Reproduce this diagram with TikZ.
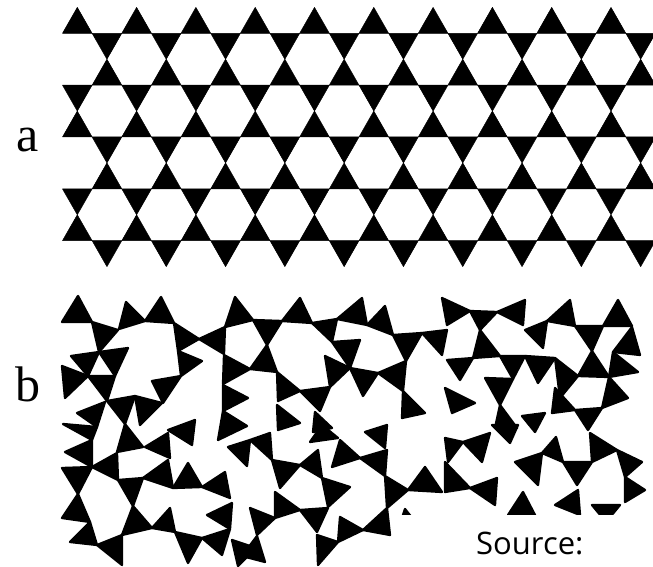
\documentclass[tikz,border=0pt]{standalone}
\usepackage{fontspec}
\setmainfont{Liberation Serif}
\newfontfamily\srcfont{Open Sans}
\begin{document}
\begin{tikzpicture}[x=1pt,y=-1pt,
  tri/.style={fill=black,draw=black,line width=0.5pt,line join=round},
  trib/.style={fill=black,draw=black,line width=2.3pt,line join=round},
  lbl/.style={font=\fontsize{50}{50}\selectfont,inner sep=0pt}]
\useasboundingbox (0,0) rectangle (653,567);
% ---- panel a: kagome lattice
\begin{scope}
\clip (0,0) rectangle (653,280);
\foreach \k in {0,...,4}{
  \foreach \j in {0,...,10}{
    \pgfmathsetmacro\yl{33.3+51.85*\k}
    \pgfmathsetmacro\xu{77.3+29.65*(2*\j+mod(\k,2))}
    \pgfmathsetmacro\xd{77.3+29.65*(2*\j+1-mod(\k,2))}
    \fill[tri] (\xu-14.82,\yl) -- (\xu,\yl-25.9) -- (\xu+14.82,\yl) -- cycle;
    \fill[tri] (\xd-14.82,\yl) -- (\xd,\yl+25.9) -- (\xd+14.82,\yl) -- cycle;
  }
}
\end{scope}
% ---- panel b: disordered network
\foreach \a/\b/\c/\d/\e/\f in {
62/322/78/296/92/322, 92/322/118/330/99/352, 119/329/126/302/145/321,
145/321/161/297/174/323, 174/323/199/339/178/351, 199/339/225/327/224/354,
225/327/235/297/253/320, 224/355/250/369/223/384, 223/385/248/398/223/411,
178/351/202/361/181/376, 152/381/181/376/163/403, 71/356/99/352/88/376,
99/352/128/348/115/376, 62/366/88/376/65/398, 88/376/115/376/107/401,
107/401/135/396/125/424, 135/396/162/403/140/425, 77/413/105/402/97/427,
63/424/97/427/92/440,
253/320/282/321/267/345, 282/321/300/298/312/323, 312/323/337/319/332/342,
337/319/362/298/367/325, 332/342/360/340/350/368, 367/325/385/306/393/335,
393/335/422/333/406/361, 422/333/447/330/442/355, 267/345/277/372/250/369,
277/372/300/391/278/401, 300/391/330/387/320/411, 325/356/350/368/330/387,
350/368/378/373/363/396, 378/373/406/361/403/391, 403/391/425/413/402/418,
277/405/300/423/278/430, 315/412/332/428/313/432,
442/298/470/311/447/325, 470/311/497/312/480/330, 497/312/525/300/523/325,
525/330/547/321/543/348, 547/321/570/300/575/326, 575/326/603/326/592/351,
603/326/618/300/632/326, 632/327/613/352/640/355, 592/351/578/376/609/377,
613/352/638/372/609/377, 609/377/628/398/602/408, 555/358/578/376/560/398,
480/330/500/356/473/358, 447/360/473/358/460/380, 500/356/525/356/513/379,
525/356/555/358/538/383, 485/378/513/379/500/405, 445/388/475/403/452/413,
500/405/517/428/495/428, 555/388/575/410/552/413, 575/410/602/408/588/430,
522/416/545/413/535/432,
65/452/92/440/92/467, 92/467/117/453/118/480, 117/452/125/424/143/447,
145/447/168/433/170/458, 118/480/143/478/133/506, 143/478/168/460/173/488,
173/488/188/463/202/487, 202/487/225/472/230/498, 168/430/195/420/192/445,
62/468/92/467/78/494, 78/494/62/518/90/522, 90/522/70/542/97/545,
97/545/122/535/122/565, 133/506/122/535/152/528, 152/528/170/508/175/532,
175/532/202/538/188/563, 202/538/230/529/222/555, 207/515/232/503/230/529,
250/440/270/433/272/460, 310/442/322/425/338/438, 332/467/340/440/360/458,
360/458/387/450/385/476, 365/432/387/425/385/448, 272/460/300/465/280/488,
300/465/318/450/322/478, 322/478/350/487/328/507, 275/492/300/510/275/518,
300/510/328/508/317/532, 250/508/275/518/257/535, 317/535/338/542/318/565,
338/542/340/517/363/530, 363/530/390/535/387/508, 387/508/408/490/385/476,
408/490/425/467/442/492,
445/438/463/442/448/462, 463/442/490/433/482/462, 492/425/518/425/510/443,
515/462/542/453/538/485, 542/453/563/462/556/437, 563/462/592/462/577/485,
590/433/617/450/592/462, 617/450/642/462/625/477, 625/477/645/490/625/502,
592/505/620/505/606/522, 555/505/578/490/580/515, 523/492/508/515/535/515,
445/462/470/488/445/492, 470/488/497/478/495/505,
223/411/247/426/218/440, 228/447/250/440/247/466, 232/540/256/548/238/566,
257/536/265/562/242/556, 398/530/405/509/420/528}
{\fill[trib] (\a,\b) -- (\c,\d) -- (\e,\f) -- cycle;}
% ---- source box
\fill[white] (395,515) rectangle (653,567);
\node[font=\srcfont\fontsize{31}{31}\selectfont,anchor=base west,inner sep=0pt] (src) at (476,554) {Source:};
% ---- labels
\node[lbl] (la) at (28,140) {a};
\node[lbl] (lb) at (28,384) {b};
\end{tikzpicture}
\end{document}
